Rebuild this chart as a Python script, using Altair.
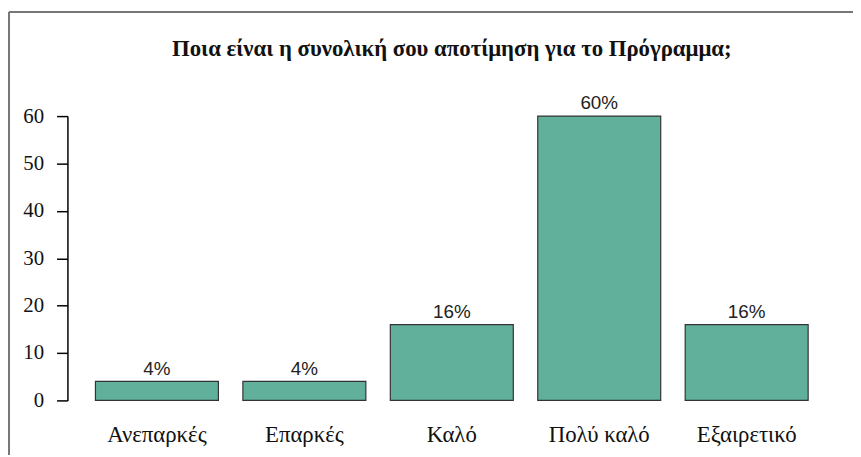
import altair as alt
import pandas as pd

categories = ["Ανεπαρκές", "Επαρκές", "Καλό", "Πολύ καλό", "Εξαιρετικό"]
values = [4, 4, 16, 60, 16]
labels = ["4%", "4%", "16%", "60%", "16%"]
y_ticks = [0, 10, 20, 30, 40, 50, 60]
title_text = ["Ποια είναι η συνολική σου αποτίμηση για το Πρόγραμμα;"]

df = pd.DataFrame({"cat": categories, "val": values, "lab": labels})
tdf = pd.DataFrame({"t": title_text})

W, H = 776, 287
PL, PT, PB = 60, 107, 55
PR = 853 - PL - W

x = alt.X("cat:N", sort=categories, title=None,
          scale=alt.Scale(paddingInner=0.166, paddingOuter=0.19),
          axis=alt.Axis(labelAngle=0, ticks=False, domain=False, labelPadding=23,
                        labelFont="Liberation Serif", labelFontSize=23, labelColor="#111"))
y = alt.Y("val:Q", title=None,
          scale=alt.Scale(domain=[0, 60], nice=False),
          axis=alt.Axis(values=y_ticks, grid=False, domainColor="#000", tickColor="#000",
                        tickSize=11, tickWidth=1.5, domainWidth=1.5, labelPadding=13,
                        labelFont="Liberation Serif", labelFontSize=21, labelColor="#111"))

bars = alt.Chart(df).mark_bar(color="#60B09C", stroke="#333", strokeWidth=1.2).encode(x=x, y=y)
text = alt.Chart(df).mark_text(baseline="alphabetic", dy=-7, font="Liberation Sans",
                               fontSize=19, color="#222").encode(
    x=alt.X("cat:N", sort=categories), y="val:Q", text="lab:N")

title = alt.Chart(tdf).mark_text(font="Liberation Serif", fontSize=23, fontWeight="bold",
                                 color="#111", baseline="middle", align="center").encode(
    x=alt.value(W / 2), y=alt.value(-68), text="t:N")

frame_top = alt.Chart(df).mark_rule(color="#777", strokeWidth=2).encode(
    x=alt.value(-59), x2=alt.value(W + PR), y=alt.value(-105))
frame_left = alt.Chart(df).mark_rule(color="#777", strokeWidth=2).encode(
    x=alt.value(-59), y=alt.value(-105), y2=alt.value(H + PB))

chart = alt.layer(frame_top, frame_left, bars, text, title).properties(
    width=W, height=H,
    autosize=alt.AutoSizeParams(type="none"),
    padding={"left": PL, "top": PT, "right": PR, "bottom": PB},
    background="white",
).configure_view(stroke=None)

chart.save("out.html", embed_options={"renderer": "svg", "actions": False})
